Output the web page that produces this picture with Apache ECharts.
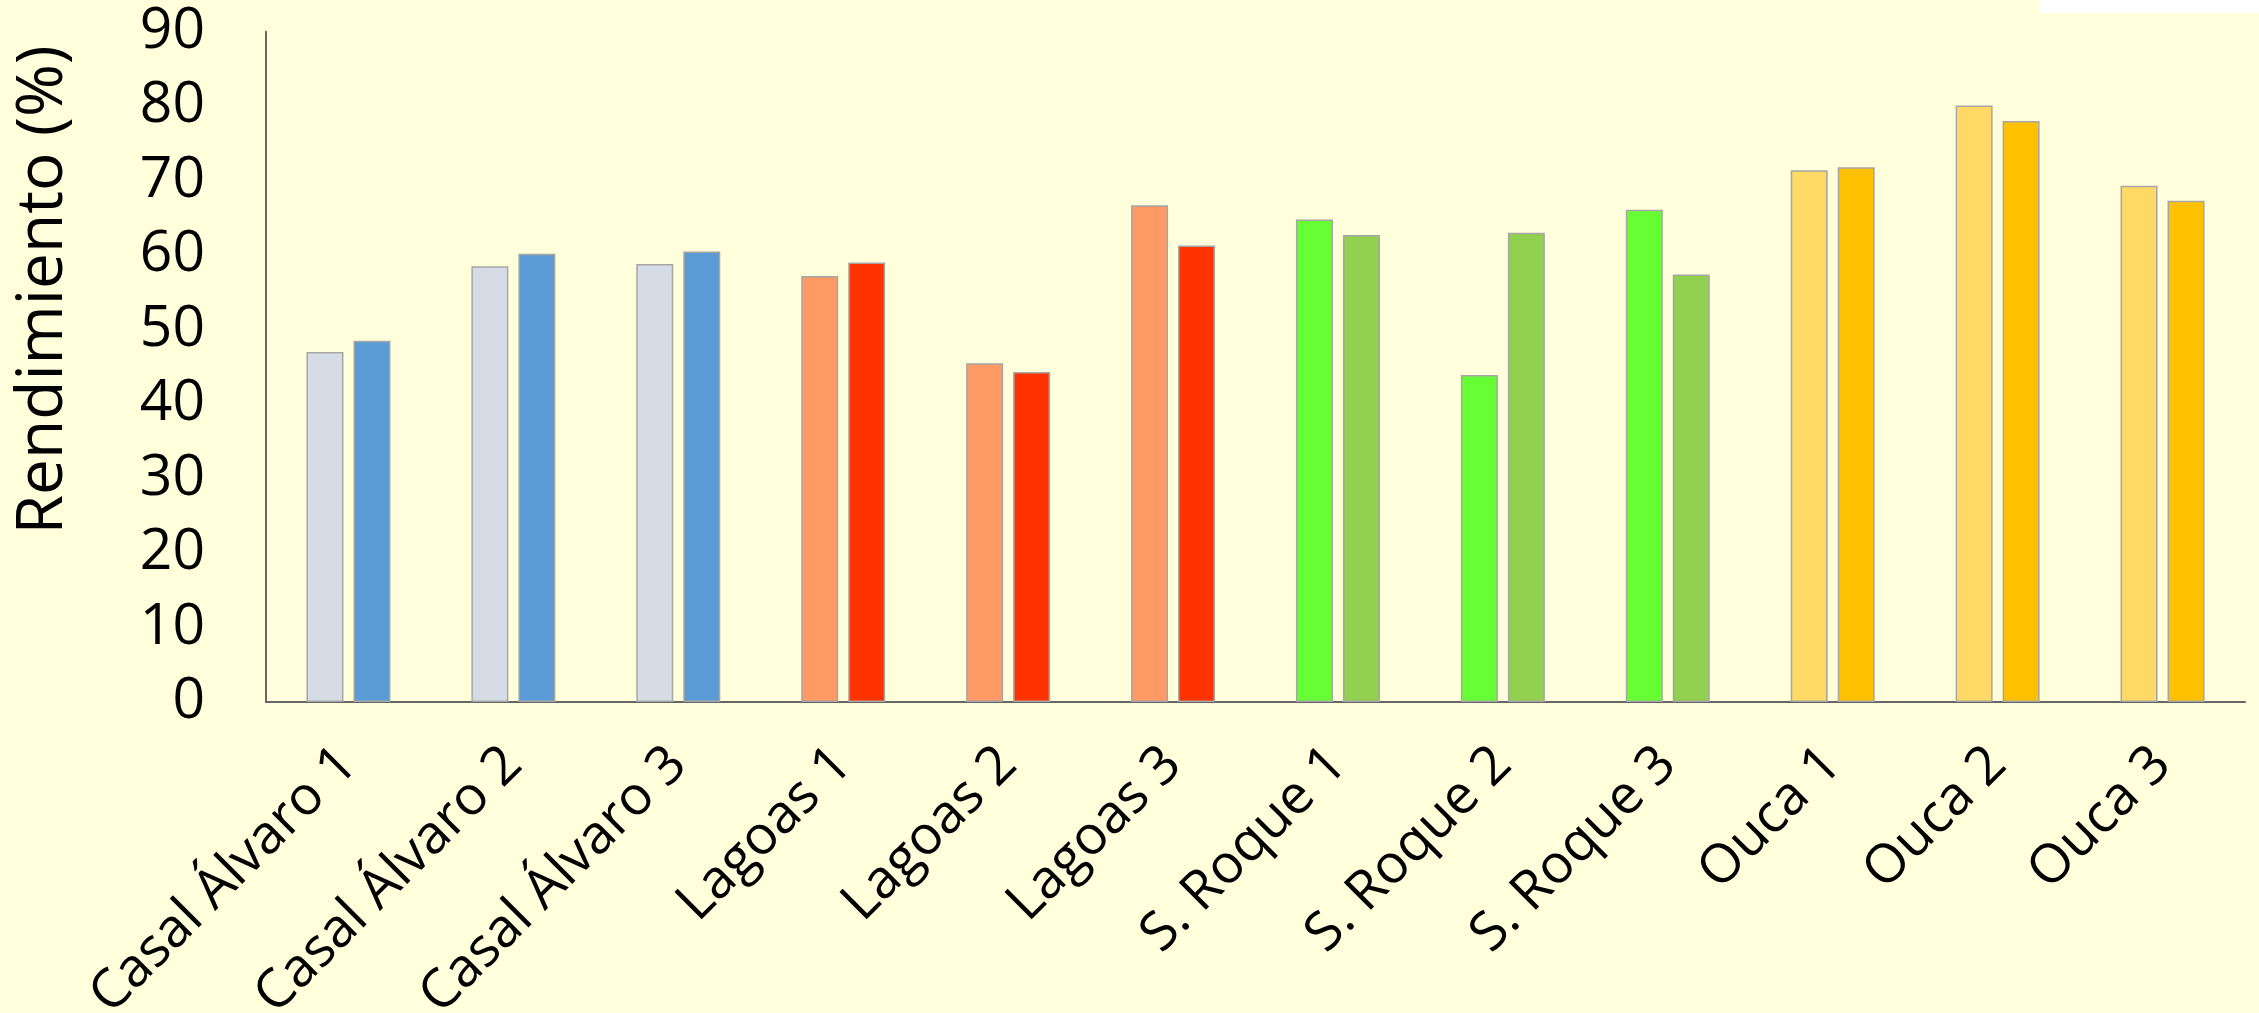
<!DOCTYPE html>
<html>
<head>
<meta charset="utf-8">
<script src="https://cdn.jsdelivr.net/npm/echarts@6/dist/echarts.min.js"></script>
<style>
html,body{margin:0;padding:0;background:#FFFFDC;}
#chart{width:2259px;height:1013px;}
</style>
</head>
<body>
<div id="chart"></div>
<script>
const categories = ['Casal Álvaro 1','Casal Álvaro 2','Casal Álvaro 3','Lagoas 1','Lagoas 2','Lagoas 3','S. Roque 1','S. Roque 2','S. Roque 3','Ouca 1','Ouca 2','Ouca 3'];
const seriesA = [47.0, 58.5, 58.8, 57.2, 45.5, 66.7, 64.8, 43.9, 66.1, 71.4, 80.1, 69.3];
const seriesB = [48.5, 60.2, 60.5, 59.0, 44.3, 61.3, 62.7, 63.0, 57.4, 71.8, 78.0, 67.3];
const colorsA = ['#D6DCE5','#D6DCE5','#D6DCE5','#FF9966','#FF9966','#FF9966','#66FF33','#66FF33','#66FF33','#FFD966','#FFD966','#FFD966'];
const colorsB = ['#5B9BD5','#5B9BD5','#5B9BD5','#FF3300','#FF3300','#FF3300','#92D050','#92D050','#92D050','#FFC000','#FFC000','#FFC000'];
const yTicks = {min: 0, max: 90, interval: 10};

const FONT = '"Open Sans", "Noto Sans", sans-serif';
const chart = echarts.init(document.getElementById('chart'), null, {renderer: 'canvas'});
const mk = (vals, cols) => vals.map((v, i) => ({value: v, itemStyle: {color: cols[i]}}));
chart.setOption({
  backgroundColor: '#FFFFDC',
  animation: false,
  graphic: [{type: 'rect', left: 2039, top: 0, shape: {width: 220, height: 13}, style: {fill: '#FFFFFF'}, silent: true}],
  grid: {left: 266, right: 14, top: 31.7, bottom: 311, containLabel: false, outerBoundsMode: 'none'},
  xAxis: {
    type: 'category', data: categories,
    axisLine: {show: true, lineStyle: {color: '#666666', width: 2}},
    axisTick: {show: false},
    axisLabel: {rotate: 45, interval: 0, fontSize: 54, fontFamily: FONT, color: '#000', margin: 54}
  },
  yAxis: {
    type: 'value', min: yTicks.min, max: yTicks.max, interval: yTicks.interval,
    name: 'Rendimiento (%)', nameLocation: 'middle', nameRotate: 90, nameGap: 190,
    nameTextStyle: {fontSize: 64, fontFamily: FONT, color: '#000', padding: [0, 0, 0, 154]},
    splitLine: {show: false},
    axisTick: {show: false},
    axisLine: {show: true, lineStyle: {color: '#666666', width: 2}},
    axisLabel: {fontSize: 57, fontFamily: FONT, color: '#000', margin: 61}
  },
  series: [
    {type: 'bar', data: mk(seriesA, colorsA), barWidth: 37, barGap: '27%',
     itemStyle: {borderColor: '#A6A6A6', borderWidth: 1.5}},
    {type: 'bar', data: mk(seriesB, colorsB), barWidth: 37, barGap: '27%',
     itemStyle: {borderColor: '#A6A6A6', borderWidth: 1.5}}
  ]
});
</script>
</body>
</html>
